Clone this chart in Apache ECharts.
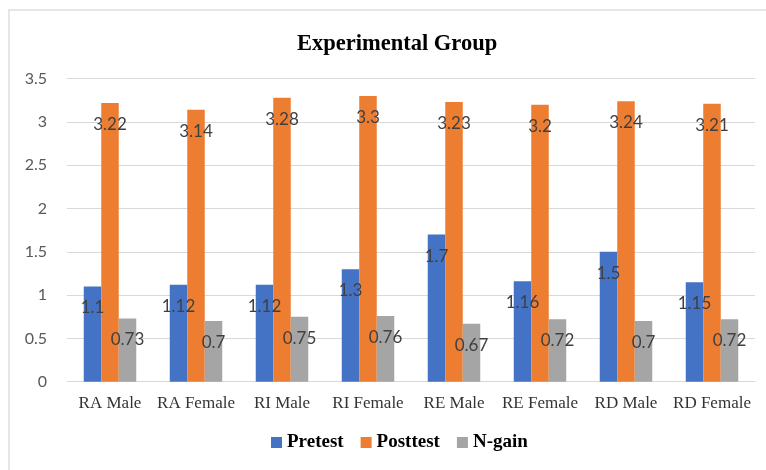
<!DOCTYPE html>
<html><head><meta charset="utf-8">
<script src="https://cdn.jsdelivr.net/npm/echarts@6/dist/echarts.min.js"></script>
<style>
html,body{margin:0;padding:0;background:#fff;}
#frame{position:absolute;left:8px;top:9px;width:770px;height:470px;border:2px solid #E6E6E6;box-sizing:border-box;}
#c{position:absolute;left:0;top:0;width:766px;height:470px;}
</style></head>
<body><div id="frame"></div><div id="c"></div>
<script>
const categories = ['RA Male','RA Female','RI Male','RI Female','RE Male','RE Female','RD Male','RD Female'];
const pretest = [1.1,1.12,1.12,1.3,1.7,1.16,1.5,1.15];
const posttest = [3.22,3.14,3.28,3.3,3.23,3.2,3.24,3.21];
const ngain = [0.73,0.7,0.75,0.76,0.67,0.72,0.7,0.72];
const yTicks = [0,0.5,1,1.5,2,2.5,3,3.5];

const serif = 'Liberation Serif';
const chart = echarts.init(document.getElementById('c'), null, {renderer:'canvas'});
const lbl = {show:true, position:'insideTop', offset:[0,8], color:'#404040', fontFamily:'Lato', fontSize:17};
function mk(name, data, color){
  return {name, type:'bar', data, barWidth:17.5, barGap:'0%', itemStyle:{color}, label:lbl};
}
chart.setOption({
  animation:false,
  textStyle:{fontFamily:serif},
  title:{text:'Experimental Group', left:292, top:28, textStyle:{fontFamily:serif, fontWeight:'bold', fontSize:22.5, color:'#000'}},
  legend:{bottom:13, left:266, itemWidth:11, itemHeight:11, itemGap:17, icon:'rect',
    textStyle:{fontFamily:serif, fontWeight:'bold', fontSize:19, color:'#000'}},
  grid:{left:67, right:11, top:78.7, bottom:88.3},
  xAxis:{type:'category', data:categories, axisLine:{lineStyle:{color:'#D9D9D9'}}, axisTick:{show:false},
    axisLabel:{interval:0, fontFamily:serif, fontSize:17, color:'#333', margin:13}},
  yAxis:{type:'value', min:0, max:3.5, interval:0.5, splitLine:{lineStyle:{color:'#D9D9D9'}},
    axisLabel:{fontFamily:'Lato', fontSize:16, color:'#595959', margin:20, formatter:v=>String(v)}},
  series:[mk('Pretest',pretest,'#4472C4'), mk('Posttest',posttest,'#ED7D31'), mk('N-gain',ngain,'#A5A5A5')]
});
</script></body></html>
